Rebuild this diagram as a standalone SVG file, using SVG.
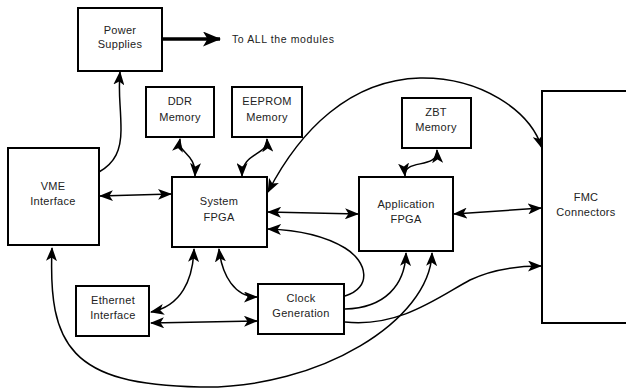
<svg xmlns="http://www.w3.org/2000/svg" width="626" height="388" viewBox="0 0 626 388">
<style>
.box{fill:#fff;stroke:#000;stroke-width:2}
.t{font-family:"Liberation Sans",Arial,sans-serif;font-size:11px;fill:#222;text-anchor:middle;letter-spacing:0.3px}
.c{fill:none;stroke:#000;stroke-width:1.5}
.d{marker-start:url(#ah);marker-end:url(#ah)}
.e{marker-end:url(#ah)}
</style>
<defs>
<marker id="ah" viewBox="0 0 14 11" refX="13" refY="5.5" markerWidth="14" markerHeight="11" markerUnits="userSpaceOnUse" orient="auto-start-reverse">
<path d="M0,0 L14,5.5 L0,11 L3.5,5.5 Z" fill="#000"/>
</marker>
<marker id="big" viewBox="0 0 18 15" refX="17" refY="7.5" markerWidth="18" markerHeight="15" markerUnits="userSpaceOnUse" orient="auto">
<path d="M0,0 L18,7.5 L0,15 L4.5,7.5 Z" fill="#000"/>
</marker>
</defs>
<g id="connectors">
<path class="c" d="M162,39 L220,39" style="stroke-width:3.5" marker-end="url(#big)"/>
<path class="c e" d="M99,172 C115,163 121,150 121,130 C121,105 118,95 120,72"/>
<path class="c d" d="M100,196 L171,194"/>
<path class="c d" d="M180,139 C177,154 196,152 195,176"/>
<path class="c d" d="M267,139 C268,156 242,152 242,176"/>
<path class="c d" d="M268,192 C300,130 350,80 420,78 C480,77 530,110 542,148"/>
<path class="c d" d="M268,212 L358,214"/>
<path class="c e" d="M345,296 C372,288 368,262 345,248 C325,236 300,230 268,229"/>
<path class="c d" d="M219,249 C222,276 235,297 257,297"/>
<path class="c d" d="M151,312 C181,306 193,280 194,249"/>
<path class="c d" d="M151,323 L257,321"/>
<path class="c e" d="M345,309 C385,308 405,285 406,253"/>
<path class="c e" d="M345,322 C400,328 440,296 470,280 C495,268 520,266 541,266"/>
<path class="c d" d="M52,248 C48,345 70,385 200,387 C320,389 430,320 432,253"/>
<path class="c d" d="M454,214 L541,208"/>
<path class="c d" d="M405,176 C403,158 438,170 437,150"/>
</g>
<g id="power"><rect class="box" x="78" y="8" width="84" height="63"/><text class="t" x="120" y="34">Power</text><text class="t" x="120" y="48">Supplies</text></g>
<text id="modules-label" x="232" y="43" style="font-family:'Liberation Sans',Arial,sans-serif;font-size:10.5px;fill:#222;letter-spacing:0.6px">To ALL the modules</text>
<g id="ddr"><rect class="box" x="146" y="87" width="68" height="50"/><text class="t" x="180" y="105">DDR</text><text class="t" x="180" y="121">Memory</text></g>
<g id="eeprom"><rect class="box" x="232" y="87" width="70" height="50"/><text class="t" x="267" y="105">EEPROM</text><text class="t" x="267" y="121">Memory</text></g>
<g id="zbt"><rect class="box" x="402" y="98" width="69" height="50"/><text class="t" x="436" y="116">ZBT</text><text class="t" x="436" y="131">Memory</text></g>
<g id="vme"><rect class="box" x="8" y="148" width="91" height="97"/><text class="t" x="53" y="190">VME</text><text class="t" x="53" y="205">Interface</text></g>
<g id="sysfpga"><rect class="box" x="172" y="177" width="95" height="70"/><text class="t" x="219" y="205">System</text><text class="t" x="219" y="221">FPGA</text></g>
<g id="appfpga"><rect class="box" x="359" y="177" width="94" height="74"/><text class="t" x="406" y="208">Application</text><text class="t" x="406" y="223">FPGA</text></g>
<g id="fmc"><rect class="box" x="542" y="91" width="90" height="232"/><text class="t" x="586" y="201">FMC</text><text class="t" x="586" y="216">Connectors</text></g>
<g id="ethernet"><rect class="box" x="76" y="286" width="73" height="50"/><text class="t" x="113" y="304">Ethernet</text><text class="t" x="113" y="319">Interface</text></g>
<g id="clock"><rect class="box" x="258" y="284" width="86" height="50"/><text class="t" x="301" y="302">Clock</text><text class="t" x="301" y="317">Generation</text></g>
</svg>
